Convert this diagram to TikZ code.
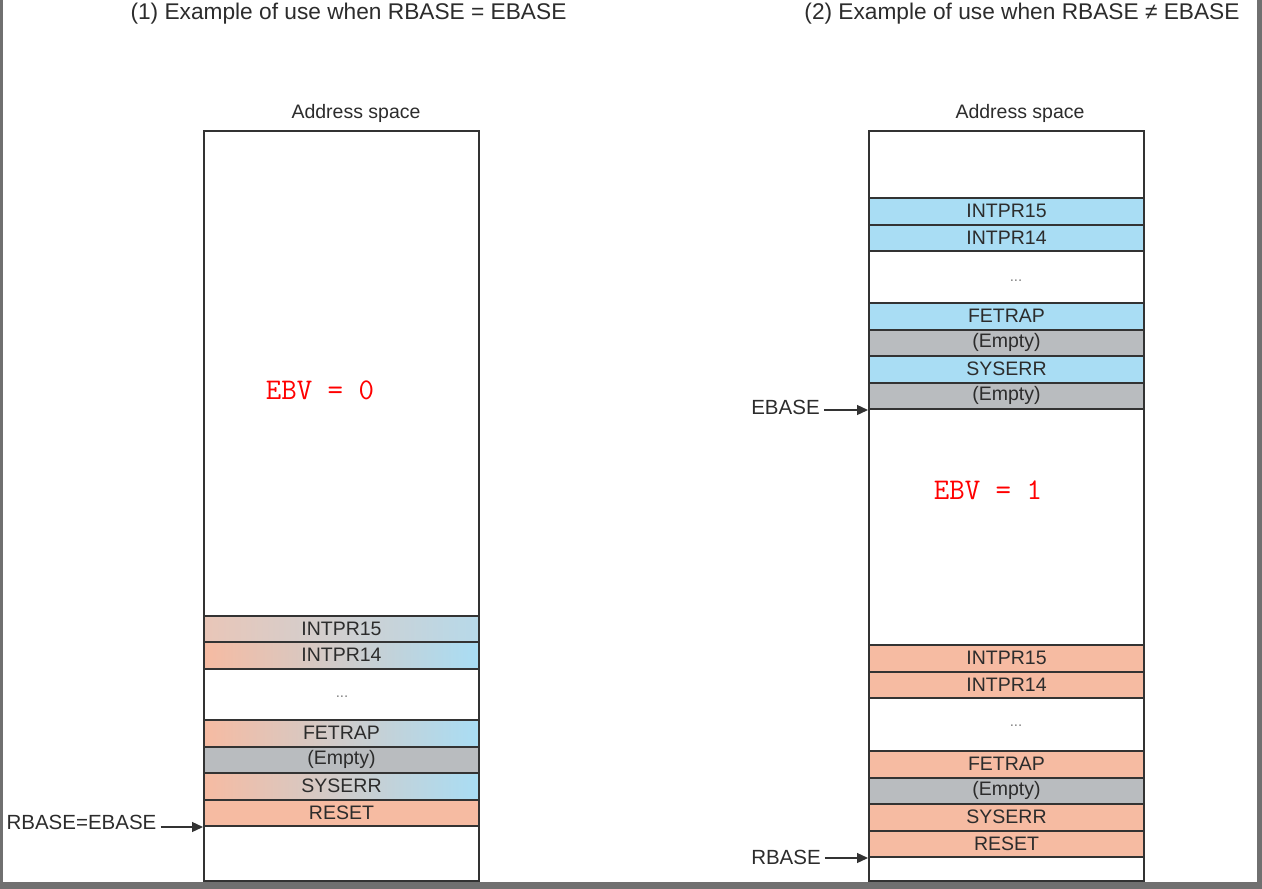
\documentclass[tikz,border=0pt]{standalone}
\usepackage{fontspec}
\setmainfont{Liberation Sans}
\usepackage{xcolor}
\usepackage{tikz}
\usetikzlibrary{arrows.meta}

\definecolor{salmon}{HTML}{F6BBA2}
\definecolor{skyblue}{HTML}{A9DDF4}
\definecolor{fadesalmon}{HTML}{E9C6B8}
\definecolor{fadeblue}{HTML}{B7D9E9}
\definecolor{emptygray}{HTML}{B9BCBF}
\definecolor{boxgray}{HTML}{333333}
\definecolor{textgray}{HTML}{2C2C2C}
\definecolor{framegray}{HTML}{707070}

\begin{document}
\begin{tikzpicture}[x=1pt,y=-1pt,
        space/.style={draw=boxgray,line width=2pt,minimum width=275pt,minimum height=750pt,inner sep=0pt,anchor=north west},
        slot/.style={draw=boxgray,line width=2pt,minimum width=275pt,minimum height=26.5pt,inner sep=0pt,anchor=north west,
            font=\fontsize{19.5}{19.5}\selectfont,text=textgray},
        fademix/.style={slot,left color=fadesalmon,right color=fadeblue},
        mix/.style={slot,left color=salmon,right color=skyblue},
        red/.style={slot,fill=salmon},
        blue/.style={slot,fill=skyblue},
        gray/.style={slot,fill=emptygray},
        dots/.style={font=\fontsize{15}{15}\selectfont,text=textgray!60},
        title/.style={font=\fontsize{22.7}{22.7}\selectfont,text=textgray},
        caption/.style={font=\fontsize{19.5}{19.5}\selectfont,text=textgray},
        base/.style={font=\fontsize{20.5}{20.5}\selectfont,text=textgray,inner sep=4pt},
        ebv/.style={font=\fontsize{30}{30}\selectfont\ttfamily,text=red},
        ptr/.style={draw=boxgray,line width=1.3pt,-{Triangle[length=11pt,width=10pt]}}
    ]
    \useasboundingbox (0,0) rectangle (1262,889);

    % Screen frame
    \fill[framegray] (0,0) rectangle (1262,889);
    \fill[white] (3,0) rectangle (1257,882);

    % Titles
    \node[title] (T1) at (348.5,14) {(1) Example of use when RBASE = EBASE};
    \node[title] (T2) at (1022,14) {(2) Example of use when RBASE ≠ EBASE};

    % Left address space
    \node[caption] (C1) at (356,113) {Address space};
    \node[space] (S1) at (203,130) {};
    \foreach \n/\y/\s/\t in {L1/614.5/fademix/INTPR15, L2/641/mix/INTPR14,
        L3/719/mix/FETRAP, L4/745.5/gray/(Empty), L5/772/mix/SYSERR, L6/798.5/red/RESET} {
        \node[\s] (\n) at (203,\y) {\t};
    }
    \node[dots] (D1) at (342,697) {...};
    \node[ebv] (E0) at (320,390) {EBV = 0};
    \node[base] (RE) at (81.5,822) {RBASE=EBASE};
    \draw[ptr] (RE.east |- L6.south west) -- (L6.south west);

    % Right address space
    \node[caption] (C2) at (1020,113) {Address space};
    \node[space] (S2) at (868,130) {};
    \foreach \n/\y/\s/\t in {U1/197/blue/INTPR15, U2/223.5/blue/INTPR14,
        U3/302/blue/FETRAP, U4/328.5/gray/(Empty), U5/355/blue/SYSERR, U6/381.5/gray/(Empty)} {
        \node[\s] (\n) at (868,\y) {\t};
    }
    \foreach \n/\y/\s/\t in {R1/644/red/INTPR15, R2/670.5/red/INTPR14,
        R3/750/red/FETRAP, R4/776.5/gray/(Empty), R5/803/red/SYSERR, R6/829.5/red/RESET} {
        \node[\s] (\n) at (868,\y) {\t};
    }
    \node[dots] (D2) at (1016,281) {...};
    \node[dots] (D3) at (1016,726) {...};
    \node[ebv] (E1) at (988,490) {EBV = 1};
    \node[base] (EB) at (785.5,407) {EBASE};
    \node[base] (RB) at (786,857) {RBASE};
    \draw[ptr] (EB.east |- U6.south west) -- (U6.south west);
    \draw[ptr] (RB.east |- R6.south west) -- (R6.south west);
\end{tikzpicture}
\end{document}
